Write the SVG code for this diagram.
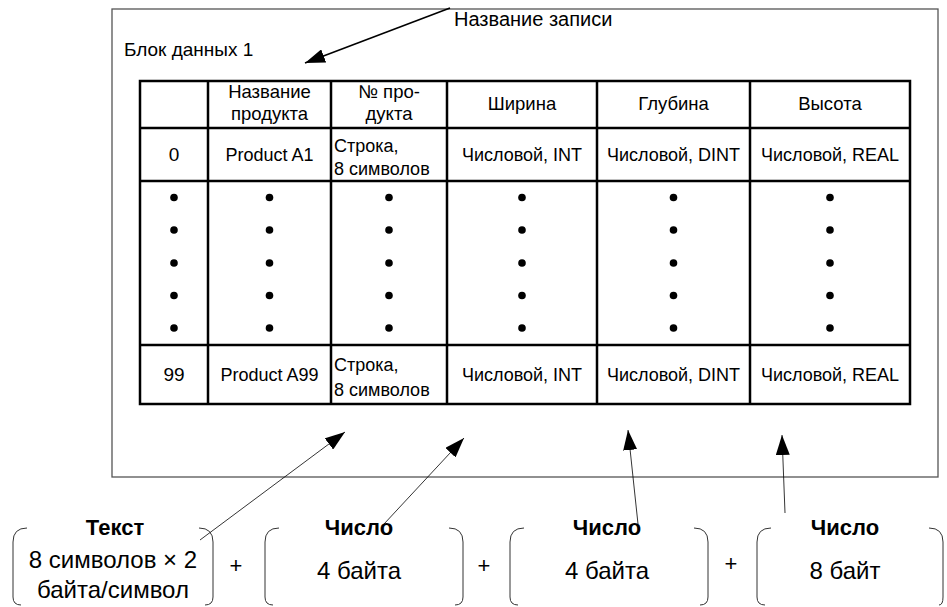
<svg xmlns="http://www.w3.org/2000/svg" width="947" height="607" viewBox="0 0 947 607">
<style>
text{font-family:"Liberation Sans",Arial,sans-serif;fill:#000}
.lbl{font-size:19px}
.ttl{font-size:20px}
.hd{font-size:18.5px;text-anchor:middle}
.num{font-size:19px;text-anchor:middle}
.cell{font-size:18px;text-anchor:middle}
.cellL{font-size:18px}
.grid{stroke:#000;stroke-width:2.5;fill:none}
.frame{stroke:#555;stroke-width:1.3;fill:#fff}
.dot{fill:#000}
.br{stroke:#333;stroke-width:1;fill:none}
.bt{font-size:24px;text-anchor:middle}
.bb{font-size:22px;font-weight:bold;text-anchor:middle}
.plus{font-size:22px;text-anchor:middle}
.conn{stroke:#000;stroke-width:0.8;fill:none}
.conn2{stroke:#000;stroke-width:1.6;fill:none}
</style>
<defs>
<marker id="ah" viewBox="0 0 20 14" refX="20" refY="7" markerWidth="20" markerHeight="14" markerUnits="userSpaceOnUse" orient="auto">
<path d="M0,0 L20,7 L0,14 z" fill="#000"/>
</marker>
</defs>
<rect class="frame" x="112" y="9" width="826" height="468"/>
<g id="record-name"><text class="ttl" x="454" y="26">Название записи</text></g>
<g id="block-title"><text class="lbl" x="124" y="56">Блок данных 1</text></g>
<g id="table">
<rect class="grid" x="140" y="81" width="770" height="323" fill="#fff"/>
<path class="grid" d="M140,128H910M140,181H910M140,345H910M208,81V404M331,81V404M447,81V404M597,81V404M750,81V404"/>
<text class="hd" x="269.5" y="98">Название</text>
<text class="hd" x="269.5" y="120">продукта</text>
<text class="hd" x="389" y="98">№ про-</text>
<text class="hd" x="389" y="120">дукта</text>
<text class="hd" x="522" y="110">Ширина</text>
<text class="hd" x="673.5" y="110">Глубина</text>
<text class="hd" x="830" y="110">Высота</text>
<text class="num" x="174" y="161">0</text>
<text class="cell" x="269.5" y="161">Product A1</text>
<text class="cellL" x="334" y="152">Строка,</text>
<text class="cellL" x="334" y="175">8 символов</text>
<text class="cell" x="522" y="161">Числовой, INT</text>
<text class="cell" x="673.5" y="161">Числовой, DINT</text>
<text class="cell" x="830" y="161">Числовой, REAL</text>
<text class="num" x="174" y="381">99</text>
<text class="cell" x="269.5" y="381">Product A99</text>
<text class="cellL" x="334" y="371">Строка,</text>
<text class="cellL" x="334" y="396">8 символов</text>
<text class="cell" x="522" y="381">Числовой, INT</text>
<text class="cell" x="673.5" y="381">Числовой, DINT</text>
<text class="cell" x="830" y="381">Числовой, REAL</text>
<g class="dot">
<circle cx="174" cy="197.5" r="3.8"/><circle cx="174" cy="230" r="3.8"/><circle cx="174" cy="263" r="3.8"/><circle cx="174" cy="295.5" r="3.8"/><circle cx="174" cy="328" r="3.8"/>
<circle cx="269.5" cy="197.5" r="3.8"/><circle cx="269.5" cy="230" r="3.8"/><circle cx="269.5" cy="263" r="3.8"/><circle cx="269.5" cy="295.5" r="3.8"/><circle cx="269.5" cy="328" r="3.8"/>
<circle cx="389" cy="197.5" r="3.8"/><circle cx="389" cy="230" r="3.8"/><circle cx="389" cy="263" r="3.8"/><circle cx="389" cy="295.5" r="3.8"/><circle cx="389" cy="328" r="3.8"/>
<circle cx="522" cy="197.5" r="3.8"/><circle cx="522" cy="230" r="3.8"/><circle cx="522" cy="263" r="3.8"/><circle cx="522" cy="295.5" r="3.8"/><circle cx="522" cy="328" r="3.8"/>
<circle cx="673.5" cy="197.5" r="3.8"/><circle cx="673.5" cy="230" r="3.8"/><circle cx="673.5" cy="263" r="3.8"/><circle cx="673.5" cy="295.5" r="3.8"/><circle cx="673.5" cy="328" r="3.8"/>
<circle cx="830" cy="197.5" r="3.8"/><circle cx="830" cy="230" r="3.8"/><circle cx="830" cy="263" r="3.8"/><circle cx="830" cy="295.5" r="3.8"/><circle cx="830" cy="328" r="3.8"/>
</g>
</g>
<g id="box-text">
<path class="br" d="M27,528 Q13,528 13,542 V597 Q13,605 21,605 M199,528 Q213,528 213,542 V597 Q213,605 205,605"/>
<text class="bb" x="115" y="535">Текст</text>
<text class="bt" x="113" y="568">8 символов × 2</text>
<text class="bt" x="113" y="598">байта/символ</text>
</g>
<g id="plus1"><text class="plus" x="236" y="573">+</text></g>
<g id="box-num1">
<path class="br" d="M279,528 Q265,528 265,542 V597 Q265,605 273,605 M449,528 Q463,528 463,542 V597 Q463,605 455,605"/>
<text class="bb" x="359" y="535">Число</text>
<text class="bt" x="359" y="579">4 байта</text>
</g>
<g id="plus2"><text class="plus" x="484" y="573">+</text></g>
<g id="box-num2">
<path class="br" d="M524,528 Q510,528 510,542 V597 Q510,605 518,605 M694,528 Q708,528 708,542 V597 Q708,605 700,605"/>
<text class="bb" x="607" y="535">Число</text>
<text class="bt" x="607" y="579">4 байта</text>
</g>
<g id="plus3"><text class="plus" x="731" y="571">+</text></g>
<g id="box-num3">
<path class="br" d="M771,528 Q757,528 757,542 V597 Q757,605 765,605 M929,528 Q943,528 943,542 V597 Q943,605 939,605"/>
<text class="bb" x="845" y="535">Число</text>
<text class="bt" x="845" y="579">8 байт</text>
</g>
<g id="connectors">
<line class="conn2" x1="450" y1="8" x2="305" y2="63" marker-end="url(#ah)"/>
<line class="conn" x1="200" y1="540" x2="345" y2="432" marker-end="url(#ah)"/>
<line class="conn" x1="384" y1="524" x2="464" y2="438" marker-end="url(#ah)"/>
<line class="conn" x1="638" y1="524" x2="628" y2="430" marker-end="url(#ah)"/>
<line class="conn" x1="785" y1="513" x2="782" y2="435" marker-end="url(#ah)"/>
</g>
</svg>
